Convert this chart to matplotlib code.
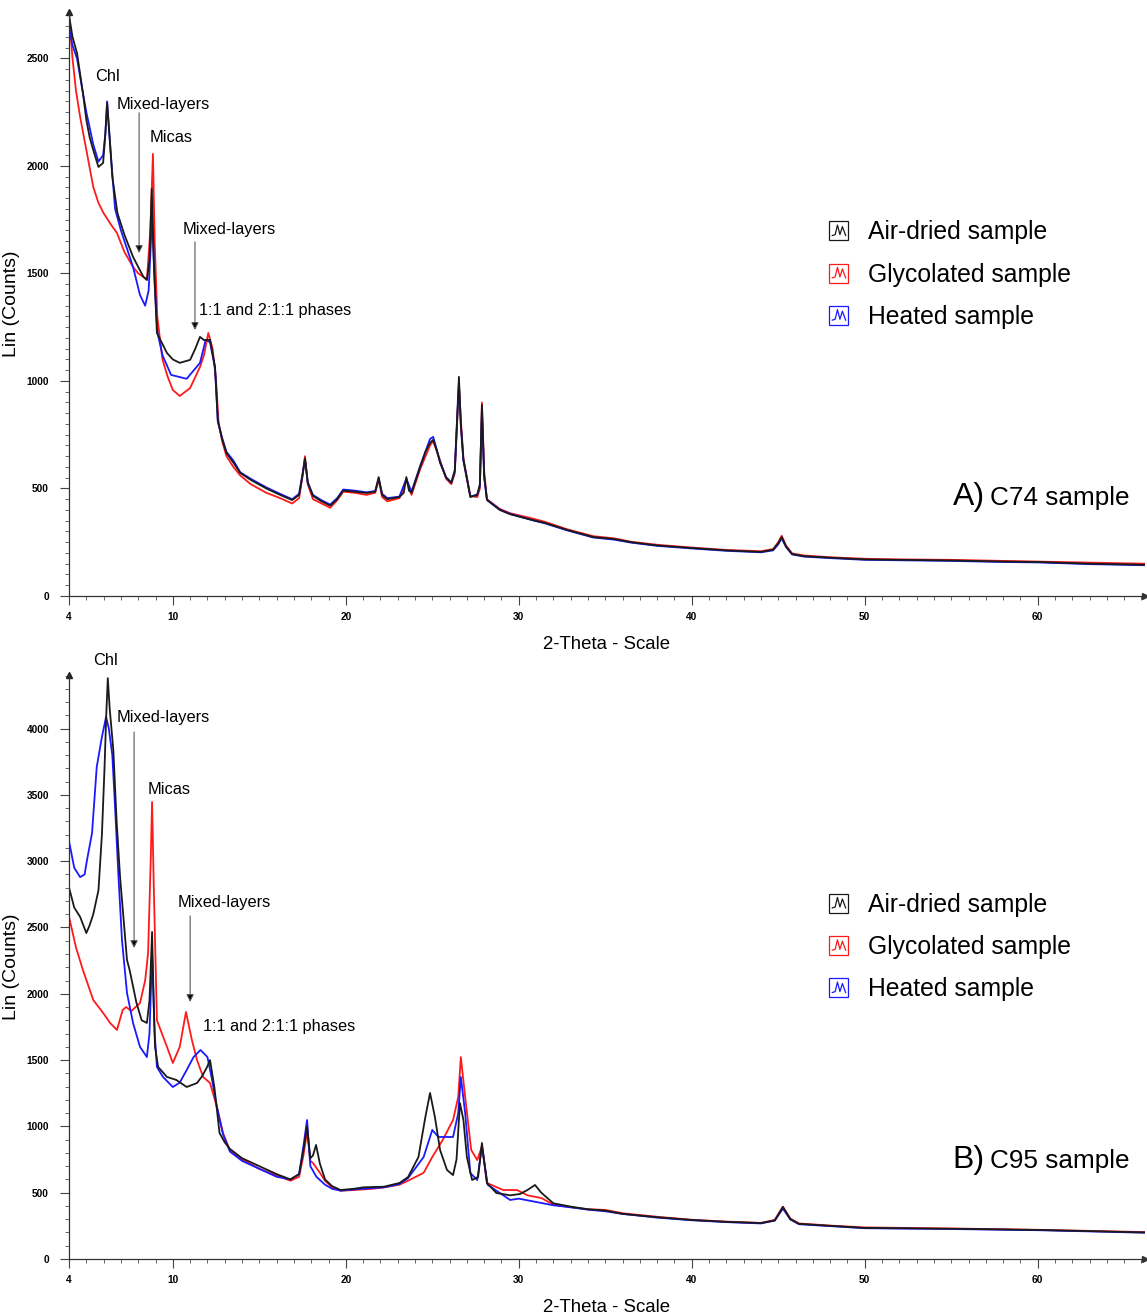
import matplotlib
matplotlib.use("Agg")
import matplotlib.pyplot as plt
from matplotlib.ticker import FixedLocator, MultipleLocator
from matplotlib.legend_handler import HandlerBase
from matplotlib.patches import Rectangle
from matplotlib.lines import Line2D

plt.rcParams['font.family'] = ['Liberation Sans', 'DejaVu Sans']

labels = ['Air-dried sample', 'Glycolated sample', 'Heated sample']
colors = ['#1a1a1a', '#ff1a1a', '#1a1aff']

# ---- A) C74 sample (2-theta, counts)
a_air_x = [4.0, 4.2, 4.46, 4.8, 5.0, 5.2, 5.4, 5.7, 5.97, 6.1, 6.2, 6.37, 6.5, 6.8, 7.2, 7.7, 8.0, 8.3, 8.5, 8.65,
           8.78, 8.9, 9.08, 9.66, 10.0, 10.4, 11.0, 11.3, 11.57, 11.8, 12.15, 12.44, 12.6, 12.85, 13.1, 13.5, 13.9,
           14.5, 15.4, 16.2, 16.9, 17.3, 17.5, 17.64, 17.8, 18.1, 18.6, 19.1, 19.5, 19.85, 20.5, 21.2, 21.7, 21.9,
           22.1, 22.4, 23.1, 23.35, 23.5, 23.65, 23.8, 24.3, 24.6, 24.87, 25.05, 25.25, 25.45, 25.8, 26.1, 26.3,
           26.42, 26.54, 26.65, 26.8, 27.2, 27.6, 27.75, 27.87, 28.0, 28.16, 28.9, 29.5, 30.8, 31.5, 32.8, 34.3,
           35.5, 36.5, 38, 40, 42, 44, 44.7, 45.0, 45.2, 45.45, 45.8, 46.5, 48, 50, 52, 55, 58, 60, 63, 66.2]
a_air_y = [2700, 2600, 2525, 2340, 2214, 2130, 2074, 1995, 2014, 2150, 2293, 2107, 1950, 1780, 1680, 1577, 1530,
           1484, 1470, 1560, 1893, 1560, 1223, 1130, 1100, 1084, 1098, 1150, 1205, 1190, 1191, 1065, 818, 730, 665,
           620, 572, 540, 500, 470, 446, 470, 560, 640, 530, 465, 440, 420, 450, 490, 485, 479, 485, 553, 470, 450,
           460, 480, 553, 490, 480, 600, 670, 712, 726, 680, 619, 550, 526, 580, 800, 1019, 800, 633, 460, 470, 520,
           888, 560, 446, 400, 380, 353, 340, 307, 274, 265, 250, 235, 223, 212, 205, 215, 245, 274, 230, 195, 185,
           178, 170, 168, 165, 160, 158, 150, 145]

a_gly_x = [4.0, 4.2, 4.4, 4.64, 5.0, 5.4, 5.7, 6.0, 6.4, 6.77, 7.2, 7.7, 8.0, 8.3, 8.5, 8.7, 8.85, 8.95, 9.1, 9.4,
           9.7, 10.0, 10.4, 11.0, 11.57, 11.8, 12.05, 12.3, 12.5, 12.65, 12.85, 13.1, 13.5, 13.9, 14.5, 15.4, 16.2,
           16.9, 17.3, 17.5, 17.64, 17.8, 18.1, 18.6, 19.1, 19.5, 19.85, 20.5, 21.2, 21.7, 21.9, 22.1, 22.4, 23.1,
           23.5, 23.8, 24.3, 24.87, 25.05, 25.45, 25.8, 26.1, 26.3, 26.42, 26.54, 26.65, 26.8, 27.2, 27.6, 27.75,
           27.87, 28.0, 28.16, 28.9, 29.5, 30.8, 31.5, 32.8, 34.3, 35.5, 36.5, 38, 40, 42, 44, 44.7, 45.0, 45.2,
           45.45, 45.8, 46.5, 48, 50, 52, 55, 58, 60, 63, 66.2]
a_gly_y = [2700, 2500, 2350, 2228, 2074, 1902, 1828, 1780, 1730, 1688, 1600, 1530, 1500, 1484, 1470, 1700, 2056,
           1650, 1300, 1100, 1020, 958, 930, 967, 1065, 1120, 1223, 1150, 1000, 800, 720, 650, 600, 560, 520, 480,
           455, 430, 455, 560, 650, 520, 450, 430, 410, 445, 485, 480, 470, 480, 540, 460, 440, 455, 540, 470, 590,
           700, 720, 630, 545, 520, 570, 780, 980, 820, 640, 465, 460, 500, 900, 580, 450, 405, 385, 360, 345, 310,
           278, 268, 252, 238, 225, 214, 208, 218, 250, 280, 235, 198, 188, 180, 173, 170, 168, 163, 160, 155, 150]

a_heat_x = [4.0, 4.2, 4.46, 4.8, 5.0, 5.4, 5.7, 5.97, 6.1, 6.2, 6.37, 6.66, 7.0, 7.7, 8.1, 8.4, 8.6, 8.8, 8.95, 9.1,
            9.4, 9.9, 10.8, 11.57, 11.9, 12.15, 12.44, 12.6, 12.85, 13.1, 13.5, 13.9, 14.5, 15.4, 16.2, 16.9, 17.3,
            17.5, 17.64, 17.8, 18.1, 18.6, 19.1, 19.5, 19.85, 20.5, 21.2, 21.7, 21.9, 22.1, 22.4, 23.1, 23.5, 23.8,
            24.3, 24.87, 25.05, 25.45, 25.8, 26.1, 26.3, 26.42, 26.54, 26.65, 26.8, 27.2, 27.6, 27.75, 27.87, 28.0,
            28.16, 28.9, 29.5, 30.8, 31.5, 32.8, 34.3, 35.5, 36.5, 38, 40, 42, 44, 44.7, 45.0, 45.2, 45.45, 45.8,
            46.5, 48, 50, 52, 55, 58, 60, 63, 66.2]
a_heat_y = [2650, 2560, 2500, 2340, 2250, 2100, 2020, 2050, 2150, 2300, 2100, 1800, 1700, 1530, 1400, 1350, 1420,
            1763, 1450, 1230, 1120, 1028, 1010, 1084, 1191, 1180, 1060, 810, 735, 670, 630, 575, 545, 505, 475, 450,
            475, 570, 635, 525, 470, 445, 425, 455, 495, 490, 482, 488, 545, 475, 455, 462, 545, 485, 605, 730, 740,
            625, 552, 528, 585, 790, 990, 790, 628, 462, 472, 510, 860, 550, 448, 402, 382, 352, 338, 305, 272, 262,
            248, 233, 221, 210, 203, 212, 240, 268, 228, 193, 183, 176, 168, 166, 163, 158, 156, 148, 143]

# ---- B) C95 sample
b_air_x = [4.0, 4.3, 4.64, 5.0, 5.2, 5.4, 5.7, 5.9, 6.05, 6.15, 6.24, 6.35, 6.56, 6.75, 6.95, 7.35, 7.5, 7.9, 8.2,
           8.5, 8.65, 8.8, 8.9, 8.97, 9.15, 9.66, 10.2, 10.8, 11.4, 11.7, 11.98, 12.15, 12.4, 12.7, 13.0, 13.3, 14.0,
           15.0, 16.0, 16.8, 17.3, 17.55, 17.76, 17.95, 18.1, 18.28, 18.5, 18.8, 19.2, 19.7, 20.5, 21.0, 21.6, 22.2,
           23.1, 23.6, 24.2, 24.6, 24.87, 25.15, 25.45, 25.85, 26.2, 26.4, 26.6, 26.8, 27.0, 27.3, 27.65, 27.87,
           28.16, 28.7, 29.5, 30.07, 30.5, 30.94, 31.3, 32, 33, 34, 35, 36, 38, 40, 42, 44, 44.8, 45.27, 45.7, 46.2,
           48, 50, 55, 60, 63, 66.2]
b_air_y = [2800, 2650, 2580, 2458, 2520, 2600, 2780, 3200, 3700, 4100, 4380, 4150, 3838, 3300, 2880, 2255, 2180,
           1930, 1800, 1780, 1950, 2466, 1900, 1600, 1448, 1373, 1350, 1297, 1327, 1380, 1448, 1500, 1297, 950, 880,
           830, 760, 700, 640, 600, 640, 820, 1000, 760, 780, 860, 720, 600, 550, 520, 530, 540, 543, 545, 573, 618,
           769, 1071, 1252, 1071, 822, 671, 633, 750, 1176, 1048, 769, 596, 618, 875, 573, 498, 480, 490, 520, 558,
           500, 420, 395, 375, 365, 340, 315, 294, 280, 271, 290, 392, 300, 265, 250, 234, 228, 219, 210, 200]

b_gly_x = [4.0, 4.4, 4.8, 5.4, 6.0, 6.37, 6.77, 7.1, 7.3, 7.6, 8.1, 8.4, 8.57, 8.72, 8.8, 8.9, 9.08, 9.66, 10.0,
           10.4, 10.76, 11.1, 11.4, 11.75, 12.15, 12.55, 12.9, 13.3, 14.0, 15.0, 16.0, 16.8, 17.3, 17.55, 17.76,
           17.95, 18.1, 18.5, 18.8, 19.2, 19.7, 20.5, 21.6, 22.2, 23.1, 23.6, 24.5, 25.0, 25.6, 26.2, 26.5, 26.65,
           26.9, 27.25, 27.6, 27.87, 28.16, 29.1, 29.9, 30.5, 31.3, 32, 33, 34, 35, 36, 38, 40, 42, 44, 44.8, 45.27,
           45.7, 46.2, 48, 50, 55, 60, 63, 66.2]
b_gly_y = [2580, 2350, 2180, 1953, 1850, 1780, 1727, 1878, 1900, 1870, 1930, 2100, 2307, 3000, 3446, 2800, 1800,
           1600, 1478, 1600, 1863, 1652, 1500, 1373, 1327, 1146, 950, 820, 750, 680, 630, 590, 620, 780, 960, 740,
           724, 650, 590, 540, 515, 520, 530, 540, 560, 590, 650, 769, 897, 1048, 1222, 1523, 1222, 822, 746, 850,
           573, 520, 520, 480, 460, 410, 390, 375, 370, 345, 318, 296, 282, 272, 295, 395, 305, 268, 252, 238, 230,
           220, 212, 203]

b_heat_x = [4.0, 4.3, 4.64, 4.9, 5.04, 5.33, 5.6, 5.9, 6.14, 6.3, 6.5, 6.66, 6.85, 7.06, 7.35, 7.7, 8.1, 8.5, 8.65,
            8.8, 8.95, 9.08, 9.43, 10.0, 10.4, 10.8, 11.2, 11.6, 12.0, 12.27, 12.55, 12.9, 13.3, 14.0, 15.0, 16.0,
            16.8, 17.3, 17.55, 17.76, 17.95, 18.3, 18.8, 19.2, 19.7, 20.5, 21.6, 22.2, 23.1, 23.6, 24.5, 25.0, 25.35,
            25.85, 26.2, 26.5, 26.65, 26.9, 27.2, 27.6, 27.87, 28.2, 29.5, 30, 31, 32, 33, 34, 35, 36, 38, 40, 42,
            44, 44.8, 45.27, 45.7, 46.2, 48, 50, 55, 60, 63, 66.2]
b_heat_y = [3150, 2950, 2880, 2900, 3009, 3213, 3710, 3937, 4088, 4000, 3800, 3409, 2900, 2405, 2006, 1780, 1600,
            1523, 1700, 2300, 1700, 1448, 1373, 1297, 1330, 1425, 1523, 1576, 1523, 1350, 1146, 940, 810, 740, 680,
            620, 600, 640, 850, 1048, 700, 620, 560, 530, 515, 525, 535, 540, 565, 610, 769, 973, 920, 920, 920,
            1100, 1373, 1100, 648, 596, 850, 560, 445, 455, 430, 405, 390, 372, 360, 340, 312, 292, 278, 268, 290,
            380, 298, 262, 248, 232, 226, 217, 208, 198]


class ZigzagHandler(HandlerBase):
    # square box with a little diffractogram inside, like the instrument software draws
    def create_artists(self, legend, orig_handle, xdescent, ydescent, width, height, fontsize, trans):
        c = orig_handle.get_color()
        s = height * 1.1
        x0 = -xdescent + (width - s) / 2
        y0 = -ydescent + (height - s) / 2
        box = Rectangle((x0, y0), s, s, fill=False, edgecolor=c, lw=0.9, transform=trans)
        zx = [0.15, 0.3, 0.42, 0.55, 0.68, 0.85]
        zy = [0.25, 0.3, 0.8, 0.3, 0.72, 0.25]
        zig = Line2D([x0 + s * t for t in zx], [y0 + s * t for t in zy], color=c, lw=0.9, transform=trans)
        return [box, zig]


def draw_panel(ax, series, ymax, yminor, ymajor_top, notes, arrows, tag, name, leg_y):
    lines = {}
    for i in [1, 2, 0]:
        xs, ys = series[i]
        lines[i], = ax.plot(xs, ys, color=colors[i], lw=1.3)

    ax.set_xlim(4, 66.2)
    ax.set_ylim(0, ymax)
    for s in ['top', 'right']:
        ax.spines[s].set_visible(False)
    for s in ['left', 'bottom']:
        ax.spines[s].set_color('#333333')
        ax.spines[s].set_linewidth(0.9)
    ax.plot(1, 0, '>', color='#333333', ms=4, transform=ax.transAxes, clip_on=False)
    ax.plot(0, 1, '^', color='#222222', ms=4, transform=ax.transAxes, clip_on=False)

    ax.xaxis.set_major_locator(FixedLocator([4, 10, 20, 30, 40, 50, 60]))
    ax.xaxis.set_minor_locator(MultipleLocator(1))
    ax.yaxis.set_major_locator(FixedLocator(list(range(0, ymajor_top + 1, 500))))
    ax.yaxis.set_minor_locator(MultipleLocator(yminor))
    ax.tick_params(which='major', length=6.5, width=0.8, color='#444444', labelsize=7.3, pad=5)
    ax.tick_params(which='minor', length=3, width=0.7, color='#666666')
    ax.tick_params(axis='y', which='major', pad=8)
    for t in ax.get_xticklabels() + ax.get_yticklabels():
        t.set_fontweight('bold')

    ax.set_xlabel('2-Theta - Scale', fontsize=13.4, labelpad=10)
    ax.set_ylabel('Lin (Counts)', fontsize=14)
    ax.yaxis.set_label_coords(-0.046, 0.5)

    for txt, x, y, ha in notes:
        ax.text(x, y, txt, fontsize=11.8, ha=ha, va='center', clip_on=False)
    for x, y_top, y_tip in arrows:
        ax.annotate('', xy=(x, y_tip), xytext=(x, y_top),
                    arrowprops=dict(arrowstyle='-|>', color='#555555', lw=0.8,
                                    mutation_scale=11, shrinkA=0, shrinkB=0, fc='black', ec='#555555'))

    ax.text(0.851, 0.155, tag, transform=ax.transAxes, fontsize=23, ha='right', va='baseline')
    ax.text(0.986, 0.155, name, transform=ax.transAxes, fontsize=18.8, ha='right', va='baseline')

    ax.legend([lines[0], lines[1], lines[2]], labels, handler_map={Line2D: ZigzagHandler()},
              loc='upper left', bbox_to_anchor=(0.707, leg_y), frameon=False, fontsize=17.8,
              handlelength=0.75, handleheight=0.7, handletextpad=0.8, labelspacing=0.74,
              borderpad=0, borderaxespad=0)


fig = plt.figure(figsize=(11.47, 13.15), dpi=100)
ax1 = fig.add_axes([0.0602, 0.5468, 0.938, 0.4441])
ax2 = fig.add_axes([0.0602, 0.0426, 0.938, 0.4441])

draw_panel(ax1,
           [(a_air_x, a_air_y), (a_gly_x, a_gly_y), (a_heat_x, a_heat_y)],
           2716, 50, 2500,
           [('Chl', 6.2, 2414, 'center'), ('Mixed-layers', 9.43, 2284, 'center'),
            ('Micas', 9.9, 2130, 'center'), ('Mixed-layers', 13.25, 1702, 'center'),
            ('1:1 and 2:1:1 phases', 11.5, 1326, 'left')],
           [(8.05, 2247, 1595), (11.28, 1647, 1237)],
           'A)', 'C74 sample', 0.643)

draw_panel(ax2,
           [(b_air_x, b_air_y), (b_gly_x, b_gly_y), (b_heat_x, b_heat_y)],
           4404, 100, 4000,
           [('Chl', 6.08, 4517, 'center'), ('Mixed-layers', 9.43, 4080, 'center'),
            ('Micas', 9.78, 3537, 'center'), ('Mixed-layers', 13.0, 2685, 'center'),
            ('1:1 and 2:1:1 phases', 11.75, 1750, 'left')],
           [(7.76, 3974, 2345), (11.0, 2587, 1938)],
           'B)', 'C95 sample', 0.627)

fig.savefig('out.png', dpi=100)
